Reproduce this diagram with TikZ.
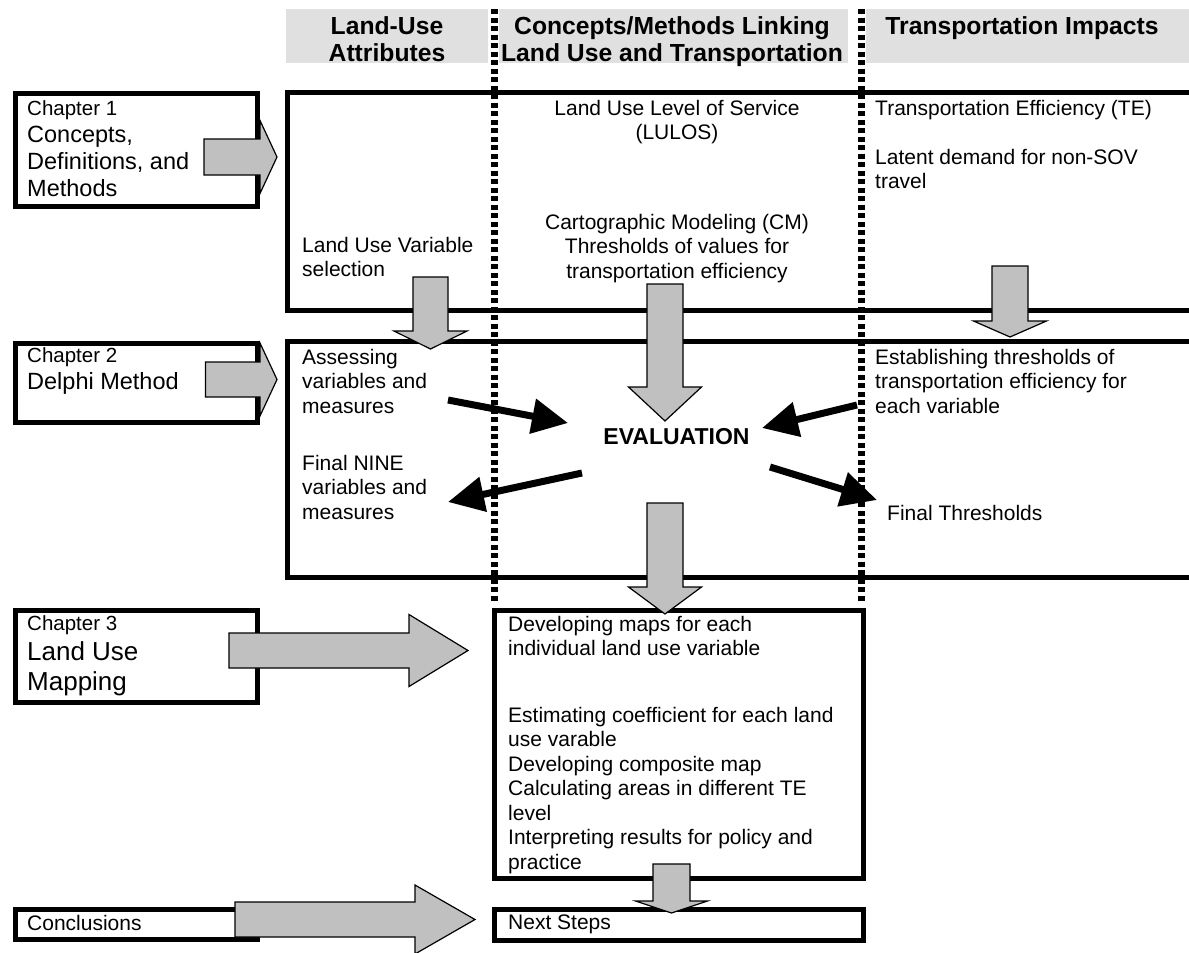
\documentclass[tikz,border=0pt]{standalone}
\usepackage{fontspec}
\setmainfont{Liberation Sans}
\usetikzlibrary{arrows.meta}
\definecolor{headgray}{HTML}{E0E0E0}
\definecolor{arrowgray}{HTML}{C0C0C0}
% gray block arrows: start, head base, tip, centre, body half, head half
\newcommand{\bigarrowh}[6]{%
\draw[blockarrow] (#1,#4-#5) -- (#2,#4-#5) -- (#2,#4-#6) -- (#3,#4) -- (#2,#4+#6) -- (#2,#4+#5) -- (#1,#4+#5) -- cycle;}
\newcommand{\bigarrowv}[6]{%
\draw[blockarrow] (#1-#5,#2) -- (#1+#5,#2) -- (#1+#5,#3) -- (#1+#6,#3) -- (#1,#4) -- (#1-#6,#3) -- (#1-#5,#3) -- cycle;}
\begin{document}
\begin{tikzpicture}[x=1pt,y=-1pt,
 chbox/.style={draw,line width=5pt,rectangle,anchor=north west,inner sep=0pt},
 boxline/.style={line width=5pt},
 sepline/.style={line width=7pt,dash pattern=on 5pt off 3.5pt},
 blockarrow/.style={fill=arrowgray,draw=black,line width=1.2pt},
 blackarrow/.style={line width=7pt,-{Triangle[length=36pt,width=34pt]}},
 txt/.style={font=\fontsize{21}{24.5}\selectfont,align=left,anchor=north west,inner sep=0pt},
 ctxt/.style={txt,align=center,anchor=north},
 head/.style={font=\fontsize{24.7}{27}\selectfont\bfseries,align=center,anchor=north,inner sep=0pt}]
\useasboundingbox (0,0) rectangle (1189,953);

% column headers
\fill[headgray] (286,9) rectangle (488,63);
\fill[headgray] (499,9) rectangle (848,63);
\fill[headgray] (866,9) rectangle (1189,63);
\node[head] (hlanduse) at (387,16) {Land-Use\\Attributes};
\node[head] (hlink) at (672,16) {Concepts/Methods Linking\\Land Use and Transportation};
\node[head] (himpact) at (1022,16) {Transportation Impacts};

% chapter boxes
\node[chbox,minimum width=242.5pt,minimum height=113pt] (ch1) at (12.5,91) {};
\node[chbox,minimum width=242.5pt,minimum height=79pt] (ch2) at (12.5,341) {};
\node[chbox,minimum width=242.5pt,minimum height=92pt] (ch3) at (12.5,608) {};
\node[chbox,minimum width=242.5pt,minimum height=30pt] (concl) at (12.5,907) {};
\node[txt,font=\fontsize{23.5}{27}\selectfont] (ch1txt) at (27,100)
 {{\fontsize{20.5}{27}\selectfont Chapter 1}\\Concepts,\\Definitions, and\\Methods};
\node[txt,font=\fontsize{23.5}{27}\selectfont] (ch2txt) at (27,347)
 {{\fontsize{20.5}{27}\selectfont Chapter 2}\\Delphi Method};
\node[txt,font=\fontsize{26}{30}\selectfont] (ch3txt) at (27,615)
 {{\fontsize{20.5}{29}\selectfont Chapter 3}\\Land Use\\Mapping};
\node[txt] (concltxt) at (27,915) {Conclusions};

% stage boxes
\draw[boxline] (1192,92) -- (287,92) -- (287,310) -- (1192,310);
\draw[boxline] (1192,341) -- (287,341) -- (287,577) -- (1192,577);
\node[chbox,minimum width=369pt,minimum height=268pt] (mapbox) at (492,608) {};
\node[chbox,minimum width=369pt,minimum height=31pt] (nextbox) at (492,907) {};

% column separators
\draw[sepline] (494,9) -- (494,603);
\draw[sepline] (861,9) -- (861,603);

% texts
\node[ctxt] (lulos) at (677,100) {Land Use Level of Service\\(LULOS)};
\node[ctxt] (cm) at (677,214) {Cartographic Modeling (CM)\\Thresholds of values for\\transportation efficiency};
\node[txt] (te) at (875,100) {Transportation Efficiency (TE)};
\node[txt] (latent) at (875,149) {Latent demand for non-SOV\\travel};
\node[txt] (luv) at (302,237) {Land Use Variable\\selection};
\node[txt] (assess) at (302,349) {Assessing\\variables and\\measures};
\node[txt] (nine) at (302,455) {Final NINE\\variables and\\measures};
\node[txt] (estab) at (875,349) {Establishing thresholds of\\transportation efficiency for\\each variable};
\node[txt] (finalth) at (887,505) {Final Thresholds};
\node[inner sep=0pt,font=\fontsize{23}{27}\selectfont\bfseries] (eval) at (676.5,437) {EVALUATION};
\node[txt] (maps) at (508,616) {Developing maps for each\\individual land use variable};
\node[txt] (coef) at (508,707) {Estimating coefficient for each land\\use varable\\Developing composite map\\Calculating areas in different TE\\level\\Interpreting results for policy and\\practice};
\node[txt] (next) at (508,915) {Next Steps};

% gray arrows
\bigarrowh{204}{260}{277}{157}{18}{36.5}
\bigarrowh{205.5}{260}{277}{379.5}{17.5}{36.5}
\bigarrowh{229}{409}{468}{650.5}{17.5}{36}
\bigarrowh{235}{415}{475}{919.5}{17.5}{34.5}
\bigarrowv{430.5}{277}{331}{349}{17.5}{36.5}
\bigarrowv{665}{284}{387}{421}{18}{36.5}
\bigarrowv{1010}{266}{321}{337}{18}{36.5}
\bigarrowv{665}{503}{587}{614}{18}{36.5}
\bigarrowv{671.5}{864}{901}{913}{18.5}{36}

% evaluation arrows
\coordinate (a1) at (448,400);
\coordinate (a2) at (568,423);
\coordinate (b1) at (582,473);
\coordinate (b2) at (448,502);
\coordinate (c1) at (857,405);
\coordinate (c2) at (762,428);
\coordinate (d1) at (770,467);
\coordinate (d2) at (877,500);
\draw[blackarrow] (a1) -- (a2);
\draw[blackarrow] (b1) -- (b2);
\draw[blackarrow] (c1) -- (c2);
\draw[blackarrow] (d1) -- (d2);
\end{tikzpicture}
\end{document}
